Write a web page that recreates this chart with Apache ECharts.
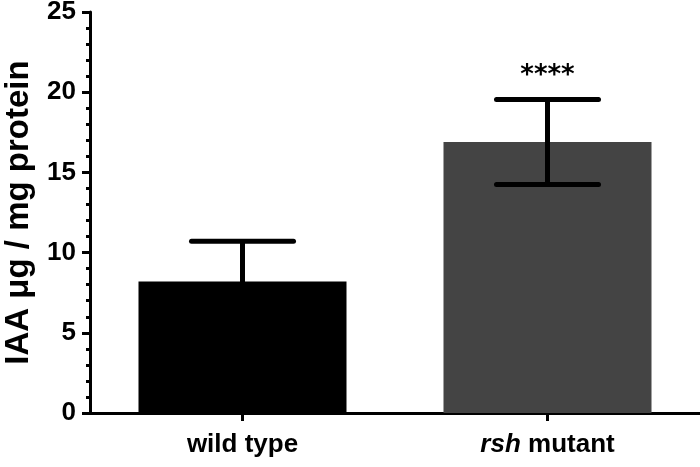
<!DOCTYPE html>
<html>
<head>
<meta charset="utf-8">
<script src="https://cdn.jsdelivr.net/npm/echarts@6/dist/echarts.min.js"></script>
<style>
html,body{margin:0;padding:0;background:#fff;}
#chart{width:700px;height:467px;}
</style>
</head>
<body>
<div id="chart"></div>
<script>
// Data
var categories = ['wild type', 'rsh mutant'];
var means = [8.2, 16.9];
var errors = [2.5, 2.65];
var significance = ['', '****'];
var barColors = ['#000000', '#444444'];
var yTicks = [0, 5, 10, 15, 20, 25];

var FONT = '"Liberation Sans", Arial, Helvetica, sans-serif';

var chart = echarts.init(document.getElementById('chart'), null, {renderer: 'canvas'});

var errData = categories.map(function (c, i) {
  return [i, means[i], errors[i]];
});

var option = {
  animation: false,
  backgroundColor: '#ffffff',
  grid: {left: 90, right: 0, top: 12, bottom: 54, containLabel: false, outerBoundsMode: 'none'},
  xAxis: {
    type: 'category',
    data: categories,
    axisLine: {lineStyle: {color: '#000', width: 3}},
    axisTick: {show: true, alignWithLabel: true, length: 8, lineStyle: {color: '#000', width: 3}},
    axisLabel: {
      color: '#000',
      fontFamily: FONT,
      fontWeight: 'bold',
      fontSize: 26,
      margin: 19,
      formatter: function (v) {
        if (v.indexOf('rsh') === 0) {
          return '{i|rsh}{n|' + v.slice(3) + '}';
        }
        return '{n|' + v + '}';
      },
      rich: {
        i: {fontFamily: FONT, fontWeight: 'bold', fontStyle: 'italic', fontSize: 26, color: '#000'},
        n: {fontFamily: FONT, fontWeight: 'bold', fontSize: 26, color: '#000'}
      }
    }
  },
  yAxis: {
    type: 'value',
    min: yTicks[0],
    max: yTicks[yTicks.length - 1],
    interval: yTicks[1] - yTicks[0],
    name: 'IAA μg / mg protein',
    nameLocation: 'middle',
    nameGap: 55,
    nameTextStyle: {color: '#000', fontFamily: FONT, fontWeight: 'bold', fontSize: 33},
    axisLine: {show: true, lineStyle: {color: '#000', width: 3}},
    axisTick: {show: true, length: 8, lineStyle: {color: '#000', width: 3}},
    minorTick: {show: true, splitNumber: 5, length: 4, lineStyle: {color: '#000', width: 3}},
    splitLine: {show: false},
    axisLabel: {color: '#000', fontFamily: FONT, fontWeight: 'bold', fontSize: 26, margin: 14}
  },
  series: [
    {
      type: 'bar',
      barWidth: '68.2%',
      data: means.map(function (v, i) {
        return {value: v, itemStyle: {color: barColors[i]}};
      }),
      z: 2
    },
    {
      type: 'custom',
      z: 5,
      data: errData,
      renderItem: function (params, api) {
        var x = api.value(0);
        var m = api.value(1);
        var e = api.value(2);
        var sig = significance[params.dataIndex];
        var top = api.coord([x, m + e]);
        var bot = api.coord([x, m - e]);
        var half = 51;
        var style = {stroke: '#000', lineWidth: 5, lineCap: 'round'};
        var children = [
          {type: 'line', shape: {x1: top[0], y1: top[1], x2: bot[0], y2: bot[1]}, style: {stroke: '#000', lineWidth: 5}},
          {type: 'line', shape: {x1: top[0] - half, y1: top[1], x2: top[0] + half, y2: top[1]}, style: style},
          {type: 'line', shape: {x1: bot[0] - half, y1: bot[1], x2: bot[0] + half, y2: bot[1]}, style: style}
        ];
        if (sig) {
          children.push({
            type: 'text',
            style: {
              text: sig,
              x: top[0],
              y: top[1] - 10,
              textAlign: 'center',
              textVerticalAlign: 'bottom',
              font: 'bold 26px "DejaVu Sans", sans-serif',
              fill: '#000'
            }
          });
        }
        return {type: 'group', children: children};
      }
    }
  ]
};
chart.setOption(option);
</script>
</body>
</html>
